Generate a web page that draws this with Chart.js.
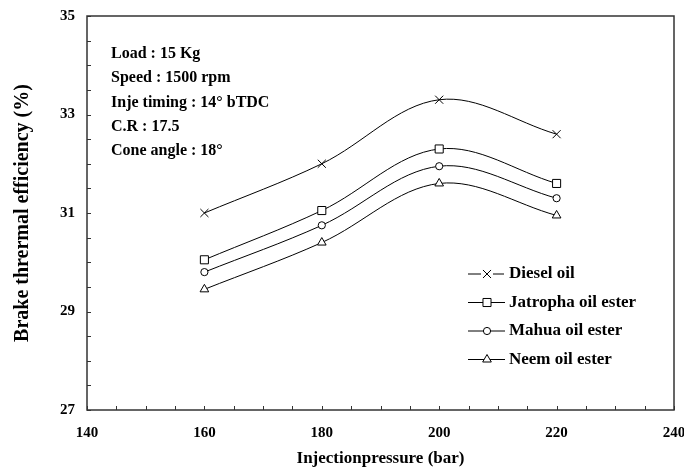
<!doctype html>
<html lang="en">
<head>
<meta charset="utf-8">
<title>Brake thermal efficiency vs injection pressure</title>
<script src="https://cdn.jsdelivr.net/npm/chart.js@4.4.1/dist/chart.umd.min.js"></script>
<style>
    html, body { margin: 0; padding: 0; background: #fff; }
    #wrap { width: 684px; height: 469px; }
</style>
</head>
<body>
<div id="wrap"><canvas id="chart"></canvas></div>
<script>
    // data
    const pressures = [160, 180, 200, 220];
    const diesel   = [31.0, 32.0, 33.3, 32.6];
    const jatropha = [30.05, 31.05, 32.3, 31.6];
    const mahua    = [29.8, 30.75, 31.95, 31.3];
    const neem     = [29.45, 30.4, 31.6, 30.95];
    const seriesNames = ['Diesel oil', 'Jatropha oil ester', 'Mahua oil ester', 'Neem oil ester'];
    const xLabels = [140, 160, 180, 200, 220, 240];
    const yLabels = [27, 29, 31, 33, 35];
    const notes = ['Load : 15 Kg', 'Speed : 1500 rpm', 'Inje timing : 14\u00b0 bTDC', 'C.R : 17.5', 'Cone angle : 18\u00b0'];

    const serif = '"Liberation Serif", "Times New Roman", serif';

    function pts(vals) {
        return vals.map(function (v, i) { return {x: pressures[i], y: v}; });
    }

    function series(name, vals, style, radius) {
        return {
            label: name,
            data: pts(vals),
            borderColor: '#000',
            borderWidth: 1,
            tension: 0.35,
            pointStyle: style,
            pointRadius: radius,
            pointHoverRadius: radius,
            pointBorderColor: '#000',
            pointBackgroundColor: '#fff',
            pointBorderWidth: 1
        };
    }

    const datasets = [
        series(seriesNames[0], diesel, 'crossRot', 5.7),
        series(seriesNames[1], jatropha, 'rect', 5.7),
        series(seriesNames[2], mahua, 'circle', 3.6),
        series(seriesNames[3], neem, 'triangle', 5)
    ];

    // box, inward ticks, notes and legend
    const extras = {
        id: 'extras',
        afterDraw: function (chart) {
            const ctx = chart.ctx;
            const a = chart.chartArea;
            const xs = chart.scales.x, ys = chart.scales.y;
            ctx.save();
            ctx.strokeStyle = '#333';
            ctx.lineWidth = 1.5;
            ctx.strokeRect(a.left, a.top, a.right - a.left, a.bottom - a.top);

            ctx.lineWidth = 1;
            ctx.beginPath();
            xs.ticks.forEach(function (t) {
                const px = Math.round(xs.getPixelForValue(t.value)) + 0.5;
                ctx.moveTo(px, a.bottom);
                ctx.lineTo(px, a.bottom - 4);
            });
            ys.ticks.forEach(function (t) {
                const py = Math.round(ys.getPixelForValue(t.value)) + 0.5;
                ctx.moveTo(a.left, py);
                ctx.lineTo(a.left + 4, py);
            });
            ctx.stroke();

            // test conditions
            ctx.fillStyle = '#000';
            ctx.font = 'bold 16px ' + serif;
            ctx.textBaseline = 'middle';
            ctx.textAlign = 'left';
            notes.forEach(function (n, i) {
                ctx.fillText(n, 111, 54 + i * 24.3);
            });

            // legend
            ctx.font = 'bold 17px ' + serif;
            chart.data.datasets.forEach(function (ds, i) {
                const y = 274 + i * 28.5;
                const mx = 487;
                ctx.strokeStyle = '#000';
                ctx.lineWidth = 1;
                ctx.beginPath();
                if (ds.pointStyle === 'crossRot') {
                    ctx.moveTo(468, y); ctx.lineTo(481, y);
                    ctx.moveTo(493, y); ctx.lineTo(504, y);
                } else {
                    ctx.moveTo(468, y); ctx.lineTo(505, y);
                }
                ctx.stroke();
                ctx.fillStyle = '#fff';
                Chart.helpers.drawPoint(ctx, {
                    pointStyle: ds.pointStyle,
                    radius: ds.pointRadius,
                    borderWidth: 1,
                    rotation: 0
                }, mx, y);
                ctx.fillStyle = '#000';
                ctx.fillText(ds.label, 509, y);
            });
            ctx.restore();
        }
    };

    new Chart(document.getElementById('chart'), {
        type: 'line',
        data: {datasets: datasets},
        options: {
            responsive: true,
            maintainAspectRatio: false,
            animation: false,
            layout: {padding: {top: 16, right: 10, left: 0, bottom: 0}},
            plugins: {
                legend: {display: false},
                tooltip: {enabled: false}
            },
            scales: {
                x: {
                    type: 'linear',
                    min: xLabels[0],
                    max: xLabels[xLabels.length - 1],
                    grid: {display: false, drawTicks: false},
                    border: {display: false},
                    ticks: {
                        stepSize: 5,
                        autoSkip: false,
                        maxRotation: 0,
                        padding: 14,
                        color: '#000',
                        font: {family: serif, size: 15, weight: 'bold'},
                        callback: function (v) { return xLabels.indexOf(v) >= 0 ? String(v) : ''; }
                    },
                    title: {
                        display: true,
                        text: 'Injectionpressure (bar)',
                        color: '#000',
                        font: {family: serif, size: 17, weight: 'bold'},
                        padding: {top: 0, bottom: 0}
                    },
                    afterFit: function (s) { s.height = 59; s.paddingLeft = 0; s.paddingRight = 0; }
                },
                y: {
                    min: yLabels[0],
                    max: yLabels[yLabels.length - 1],
                    grid: {display: false, drawTicks: false},
                    border: {display: false},
                    ticks: {
                        stepSize: 0.5,
                        autoSkip: false,
                        padding: 12,
                        color: '#000',
                        font: {family: serif, size: 15, weight: 'bold'},
                        callback: function (v) { return yLabels.indexOf(v) >= 0 ? String(v) : ''; }
                    },
                    title: {
                        display: true,
                        text: 'Brake thrermal efficiency (%)',
                        color: '#000',
                        font: {family: serif, size: 20, weight: 'bold'},
                        padding: {top: 11, bottom: 0}
                    },
                    afterFit: function (s) { s.width = 87; s.paddingTop = 0; s.paddingBottom = 0; }
                }
            }
        },
        plugins: [extras]
    });
</script>
</body>
</html>
